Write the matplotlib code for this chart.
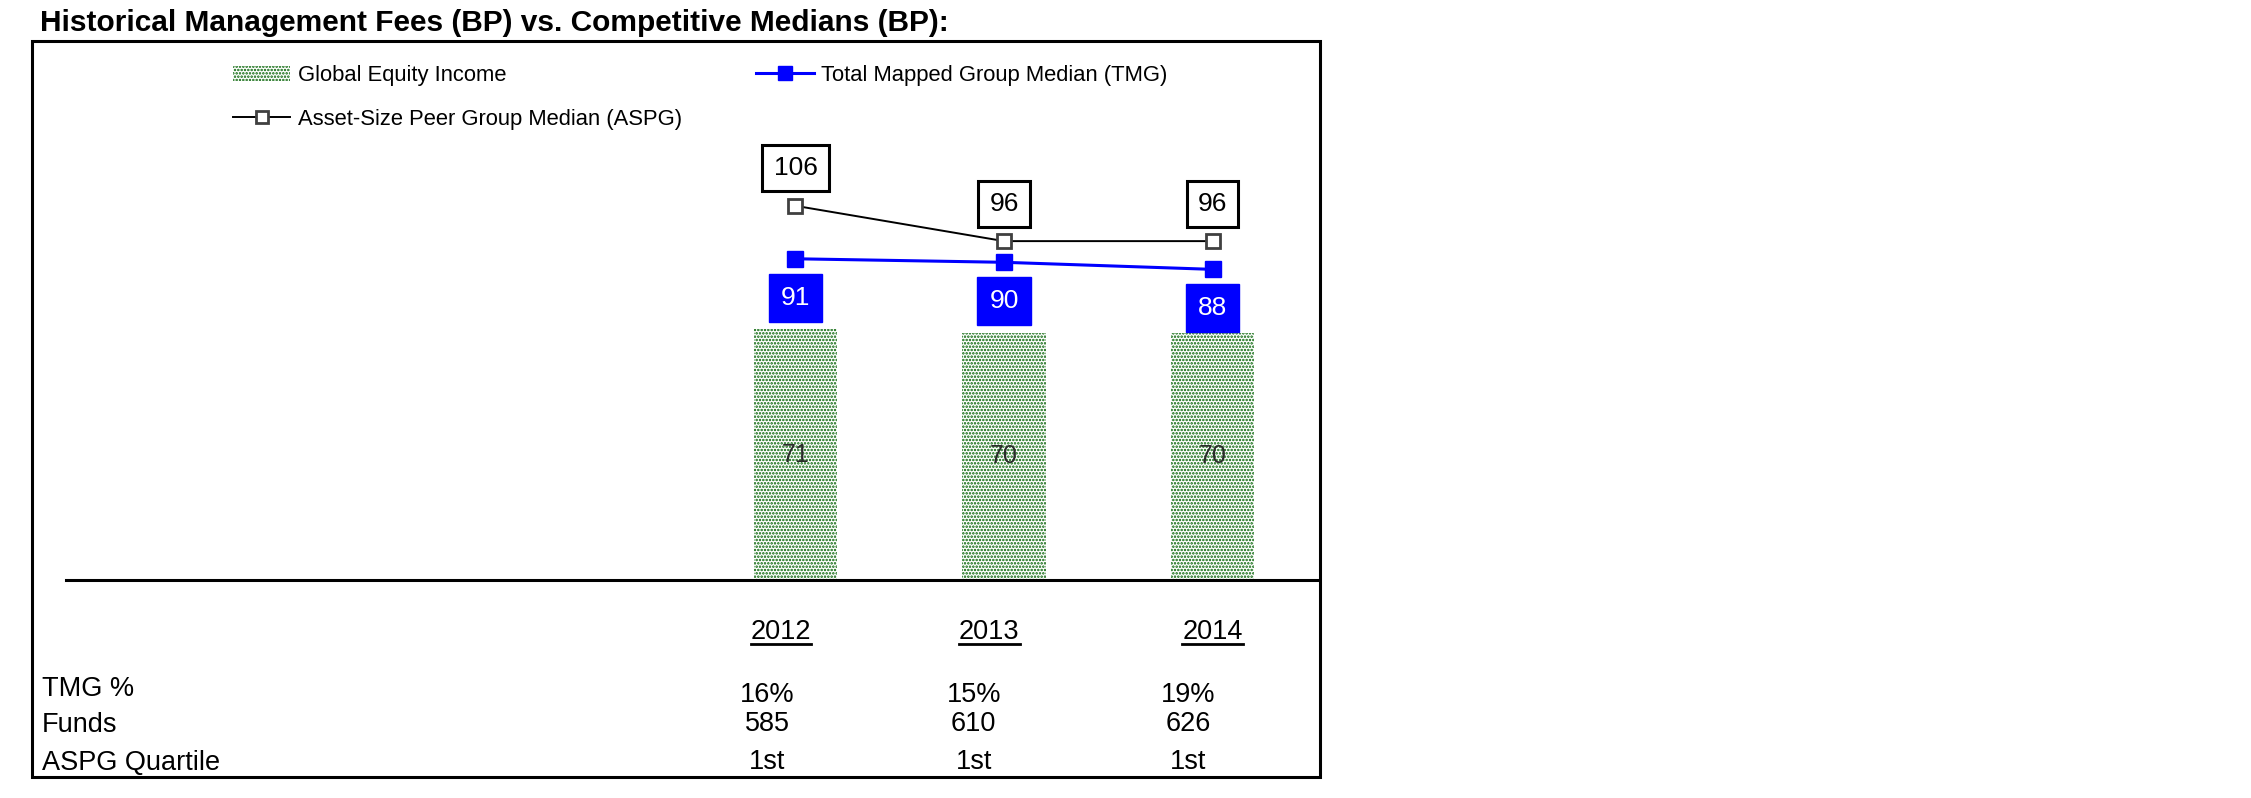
import matplotlib
matplotlib.use("Agg")
import matplotlib.pyplot as plt
from matplotlib.lines import Line2D
from matplotlib.patches import Rectangle
from matplotlib.transforms import blended_transform_factory, IdentityTransform

# data
years = ["2012", "2013", "2014"]
gei_fees = [71, 70, 70]
tmg_median = [91, 90, 88]
aspg_median = [106, 96, 96]
row_labels = ["TMG %", "Funds", "ASPG Quartile"]
tmg_pct = ["16%", "15%", "19%"]
funds = ["585", "610", "626"]
aspg_quartile = ["1st", "1st", "1st"]

W, H = 2251, 798
plt.rcParams['font.family'] = ['Liberation Sans', 'DejaVu Sans']
plt.rcParams['hatch.linewidth'] = 1.2


def fx(px):
    return px / W


def fy(py):
    return 1 - py / H


fig = plt.figure(figsize=(W / 100, H / 100), dpi=100)

ax = fig.add_axes([fx(65.75), fy(580), 1251 / W, 150 * 3.53 / H])
x = list(range(len(years)))
ax.set_xlim(-3.5, 2.5)
ax.set_ylim(0, 150)
ax.patch.set_visible(False)
for s in ["top", "left", "right"]:
    ax.spines[s].set_visible(False)
ax.spines["bottom"].set_linewidth(2.2)
ax.set_xticks([])
ax.set_yticks([])

#- bars
bars = ax.bar(x, gei_fees, width=0.4, color="white", edgecolor="#006000",
              linewidth=0, hatch=".....", label="Global Equity Income", zorder=2)
ax.bar_label(bars, label_type="center", fontsize=18, color="#2a2a2a")

#- lines
aspg_line, = ax.plot(x, aspg_median, color="black", lw=1.4, marker="s", ms=10.5,
                     mfc="white", mec="#404040", mew=2,
                     label="Asset-Size Peer Group Median (ASPG)", zorder=4)
tmg_line, = ax.plot(x, tmg_median, color="#0000ff", lw=2.2, marker="s", ms=12,
                    mfc="#0000ff", mec="#0000ff", mew=1,
                    label="Total Mapped Group Median (TMG)", zorder=3)

for xi, v in zip(x, aspg_median):
    ax.annotate(str(v), (xi, v), xytext=(0, 27), textcoords="offset points",
                ha="center", va="center", fontsize=19, color="black",
                bbox=dict(boxstyle="square,pad=0.42", fc="white", ec="black", lw=2.2),
                zorder=5)
for xi, v in zip(x, tmg_median):
    ax.annotate(str(v), (xi, v), xytext=(0, -28), textcoords="offset points",
                ha="center", va="center", fontsize=19, color="white",
                bbox=dict(boxstyle="square,pad=0.45", fc="#0000ff", ec="#0000ff", lw=1),
                zorder=5)

#- legend
handles = [bars, aspg_line, tmg_line]
fig.legend(handles, [h.get_label() for h in handles], loc="upper left",
           bbox_to_anchor=(fx(233), fy(65)), ncol=2, frameon=False, fontsize=15.8,
           handlelength=2.6, handletextpad=0.35, labelspacing=1.05,
           columnspacing=3.4, borderpad=0, borderaxespad=0, markerscale=0.8)

#- title and outer frame
fig.text(fx(40), fy(31), "Historical Management Fees (BP) vs. Competitive Medians (BP):",
         fontsize=21.5, fontweight="bold", ha="left", va="baseline")
fig.add_artist(Rectangle((fx(32), fy(777)), fx(1320) - fx(32), fy(41) - fy(777),
                         transform=fig.transFigure, fill=False, ec="black", lw=2.2))

#- table under the chart
trans = blended_transform_factory(ax.transData, fig.transFigure)
year_dx = [-0.07, -0.07, 0.0]
value_dx = [-0.135, -0.145, -0.115]
year_texts = []
for xi, yr, dx in zip(x, years, year_dx):
    year_texts.append(ax.text(xi + dx, fy(639), yr, transform=trans, ha="center",
                              va="baseline", fontsize=19.5))

for lab, base in zip(row_labels, [696, 732, 770]):
    fig.text(fx(42), fy(base), lab, ha="left", va="baseline", fontsize=19.5)

for vals, base in zip([tmg_pct, funds, aspg_quartile], [702, 731, 769]):
    for xi, v, dx in zip(x, vals, value_dx):
        ax.text(xi + dx, fy(base), v, transform=trans, ha="center", va="baseline",
                fontsize=19.5)

# underline the year labels
fig.canvas.draw()
for t in year_texts:
    bb = t.get_window_extent()
    fig.add_artist(Line2D([bb.x0, bb.x1], [bb.y0 + 1, bb.y0 + 1],
                          transform=IdentityTransform(), color="black", lw=2))

fig.savefig("out.png", dpi=100)
